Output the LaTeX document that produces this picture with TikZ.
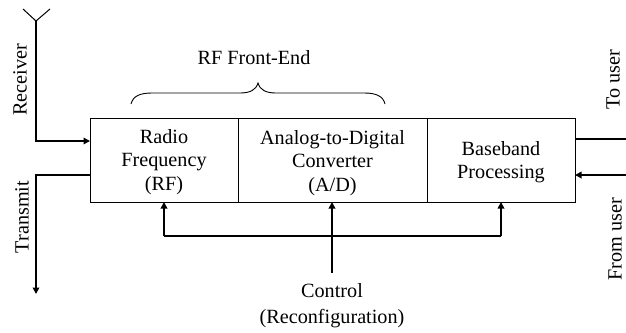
\documentclass[tikz,border=0pt]{standalone}
\usepackage{fontspec}
\setmainfont{Liberation Serif}
\usetikzlibrary{arrows.meta}
\tikzset{
  x=1pt,y=-1pt,
  blockbox/.style={draw,line width=1.1pt,minimum height=84pt,inner sep=0pt,anchor=north west},
  lbl/.style={inner sep=0pt,align=center,font=\fontsize{20.2}{23.5}\selectfont},
  wire/.style={line width=2pt},
  feed/.style={wire,-{Triangle[length=6.5pt,width=6.5pt]}},
  thin brace/.style={line width=0.9pt}
}
\begin{document}
\begin{tikzpicture}
\useasboundingbox (0,0) rectangle (626,332);
\node[blockbox,minimum width=147.5pt] (rf) at (90,118) {};
\node[blockbox,minimum width=189.5pt] (ad) at (237.5,118) {};
\node[blockbox,minimum width=148pt] (bb) at (427,118) {};
\node[lbl] (rft) at (164,162) {Radio\\Frequency\\(RF)};
\node[lbl] (adt) at (332.5,163) {Analog-to-Digital\\Converter\\(A/D)};
\node[lbl] (bbt) at (501,162) {Baseband\\Processing};
\node[lbl] (fe) at (254,58) {RF Front-End};
\node[lbl,rotate=90] (rx) at (20,80) {Receiver};
\node[lbl,rotate=90] (tx) at (22,217) {Transmit};
\node[lbl,rotate=90] (tu) at (613,79.5) {To user};
\node[lbl,rotate=90] (fu) at (615,239) {From user};
\node[lbl] (ctl) at (332,291) {Control};
\node[lbl] (rcf) at (332,319) {(Reconfiguration)};
\coordinate (ant) at (36,21);
\coordinate (antl) at (23,9);
\coordinate (antr) at (50,9);
\coordinate (rxin) at (90,141);
\coordinate (txout) at (90,175);
\coordinate (txend) at (36,294);
\coordinate (tuout) at (575,139);
\coordinate (tuend) at (626,139);
\coordinate (fuin) at (575,175);
\coordinate (fuend) at (626,175);
\coordinate (ctlstart) at (332,273);
\coordinate (busl) at (164,236);
\coordinate (busr) at (501,236);
\coordinate (busc) at (332,236);
\draw[line width=1pt] (antl) -- (ant) -- (antr);
\draw[feed] (ant) |- (rxin);
\draw[feed] (txout) -| (txend);
\draw[wire] (tuout) -- (tuend);
\draw[feed] (fuend) -- (fuin);
\draw[feed] (ctlstart) -- (332,202);
\draw[wire] (busl) -- (busr);
\draw[feed] (busl) -- (164,202);
\draw[feed] (busr) -- (501,202);
\draw[thin brace] (131,104) .. controls (133,96) and (140,93) .. (152,93) -- (240,93) .. controls (250,93) and (256,90) .. (258,83) .. controls (260,90) and (266,93) .. (276,93) -- (364,93) .. controls (376,93) and (383,96) .. (385,104);
\end{tikzpicture}
\end{document}
